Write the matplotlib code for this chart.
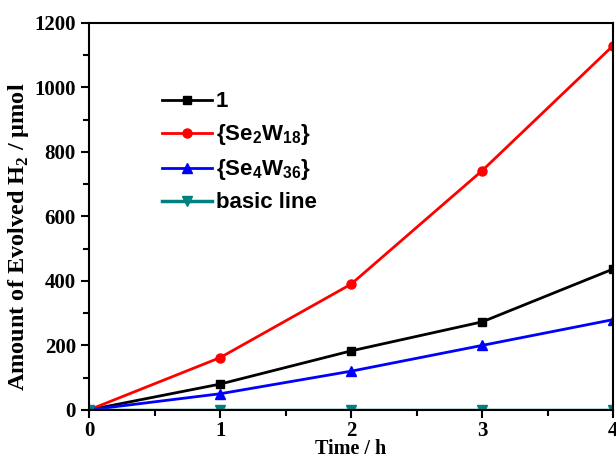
import matplotlib.pyplot as plt
from matplotlib.ticker import MultipleLocator

plt.rcParams['mathtext.fontset'] = 'custom'
plt.rcParams['mathtext.sf'] = 'Liberation Sans:bold'
plt.rcParams['mathtext.bf'] = 'Liberation Serif:bold'

# H2 evolution over time for each catalyst
time_h = [0, 1, 2, 3, 4]
h2_cat1 = [0, 80, 183, 273, 437]
h2_se2w18 = [0, 162, 390, 742, 1130]
h2_se4w36 = [0, 50, 120, 200, 280]
h2_basic = [0, 0, 0, 0, 0]

labels = ['1', r'{Se$_{\mathsf{2}}$W$_{\mathsf{18}}$}', r'{Se$_{\mathsf{4}}$W$_{\mathsf{36}}$}', 'basic line']

fig = plt.figure(figsize=(6.16, 4.59), dpi=100)
ax = fig.add_axes([0.1445, 0.107, 0.851, 0.843])

ax.plot(time_h, h2_cat1, color='black', marker='s', ms=6, lw=2, label=labels[0])
ax.plot(time_h, h2_se2w18, color='#ff0000', marker='o', ms=6.5, lw=2, label=labels[1])
ax.plot(time_h, h2_se4w36, color='#0000ff', marker='^', ms=6.5, lw=2, label=labels[2])
ax.plot(time_h, h2_basic, color='#008080', marker='v', ms=6.5, lw=2.5, label=labels[3])

ax.set_xlim(0, 4)
ax.set_ylim(0, 1200)
ax.xaxis.set_major_locator(MultipleLocator(1))
ax.xaxis.set_minor_locator(MultipleLocator(0.5))
ax.yaxis.set_major_locator(MultipleLocator(200))
ax.yaxis.set_minor_locator(MultipleLocator(100))
ax.tick_params(which='major', direction='out', length=6, width=1.5)
ax.tick_params(which='minor', direction='out', length=4, width=1.5)
ax.tick_params(axis='x', which='major', pad=2)
for s in ax.spines.values():
    s.set_linewidth(1.5)

for lab in ax.get_xticklabels() + ax.get_yticklabels():
    lab.set_fontfamily('Liberation Serif')
    lab.set_fontweight('bold')
    lab.set_fontsize(15)

ax.set_xlabel('Time / h', fontfamily='Liberation Serif', fontweight='bold', fontsize=14.5)
ax.xaxis.set_label_coords(0.5, -0.075)
ax.set_ylabel(r'Amount of Evolved H$_{\mathbf{2}}$ / μmol', fontfamily='Liberation Serif',
              fontweight='bold', fontsize=17.5)
ax.yaxis.set_label_coords(-0.111, 0.448)

leg = ax.legend(loc='upper left', bbox_to_anchor=(0.123, 0.846), frameon=False,
                prop={'family': 'Liberation Sans', 'weight': 'bold', 'size': 16},
                handlelength=2.25, handletextpad=0.15, labelspacing=0.45,
                borderaxespad=0)

fig.savefig('out.png', dpi=100)
